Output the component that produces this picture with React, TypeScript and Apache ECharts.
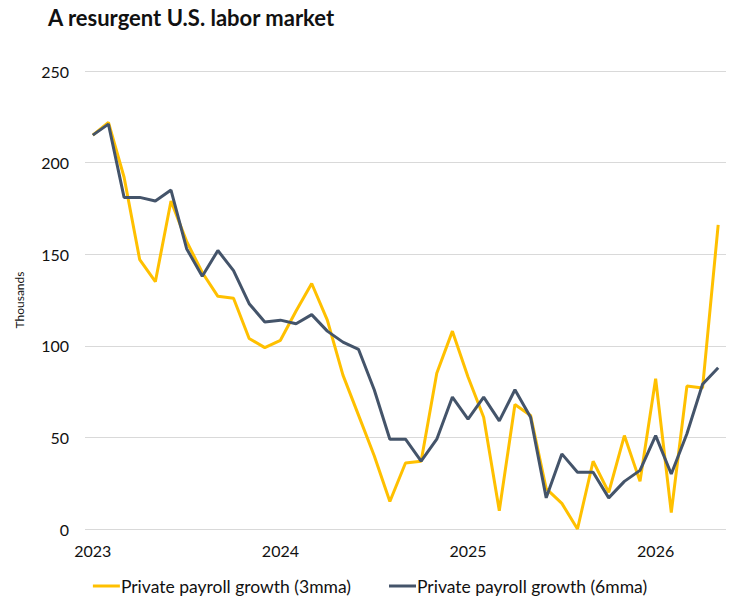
import React, { useEffect, useRef } from "react";
import * as echarts from "echarts";

// Monthly points, Jan 2023 through May 2026
const months: string[] = [
  "2023-01", "2023-02", "2023-03", "2023-04", "2023-05", "2023-06", "2023-07", "2023-08", "2023-09", "2023-10", "2023-11", "2023-12",
  "2024-01", "2024-02", "2024-03", "2024-04", "2024-05", "2024-06", "2024-07", "2024-08", "2024-09", "2024-10", "2024-11", "2024-12",
  "2025-01", "2025-02", "2025-03", "2025-04", "2025-05", "2025-06", "2025-07", "2025-08", "2025-09", "2025-10", "2025-11", "2025-12",
  "2026-01", "2026-02", "2026-03", "2026-04", "2026-05",
];

// Private payroll growth, thousands, 3-month moving average
const payroll3mma: number[] = [
  215, 222, 192, 147, 135, 179, 157, 140, 127, 126,
  104, 99, 103, 119, 134, 114, 84, 62, 40, 15,
  36, 37, 85, 108, 83, 61, 10, 68, 62, 22,
  14, 0, 37, 20, 51, 26, 82, 9, 78, 77,
  166,
];

// Private payroll growth, thousands, 6-month moving average
const payroll6mma: number[] = [
  215, 221, 181, 181, 179, 185, 153, 138, 152, 141,
  123, 113, 114, 112, 117, 108, 102, 98, 76, 49,
  49, 37, 49, 72, 60, 72, 59, 76, 61, 17,
  41, 31, 31, 17, 26, 32, 51, 30, 52, 79,
  88,
];

const yTicks: number[] = [0, 50, 100, 150, 200, 250];

const FONT = "Lato, 'Open Sans', sans-serif";
const GOLD = "#FFC000";
const SLATE = "#44546A";

export default function App() {
  const ref = useRef<HTMLDivElement>(null);

  useEffect(() => {
    if (!ref.current) return;
    const chart = echarts.init(ref.current, undefined, { renderer: "svg" });
    chart.setOption({
      animation: false,
      backgroundColor: "#ffffff",
      textStyle: { fontFamily: FONT },
      title: {
        text: "A resurgent U.S. labor market",
        left: 43,
        top: 1,
        textStyle: { fontFamily: FONT, fontSize: 22, fontWeight: "bold", color: "#111" },
      },
      grid: { left: 85, right: 14, top: 71, bottom: 82 },
      legend: {
        bottom: 11,
        left: "center",
        itemWidth: 27,
        itemHeight: 3,
        itemGap: 38,
        icon: "rect",
        textStyle: { fontFamily: FONT, fontSize: 17.5, color: "#111", padding: [0, 0, 0, -4] },
        data: ["Private payroll growth (3mma)", "Private payroll growth (6mma)"],
      },
      xAxis: {
        type: "category",
        data: months,
        boundaryGap: true,
        axisLine: { show: false },
        axisTick: { show: false },
        axisLabel: {
          interval: (idx: number) => idx % 12 === 0,
          formatter: (v: string) => v.slice(0, 4),
          fontFamily: FONT,
          fontSize: 16,
          color: "#111",
          margin: 13,
        },
      },
      yAxis: {
        type: "value",
        min: yTicks[0],
        max: yTicks[yTicks.length - 1],
        interval: 50,
        name: "Thousands",
        nameLocation: "middle",
        nameGap: 60,
        nameTextStyle: { fontFamily: FONT, fontSize: 12, color: "#111" },
        axisLine: { show: false },
        axisTick: { show: false },
        axisLabel: { fontFamily: FONT, fontSize: 16, color: "#111", margin: 16 },
        splitLine: { lineStyle: { color: "#d9d9d9", width: 1 } },
      },
      series: [
        {
          name: "Private payroll growth (3mma)",
          type: "line",
          data: payroll3mma,
          showSymbol: false,
          symbol: "none",
          lineStyle: { color: GOLD, width: 3 },
          itemStyle: { color: GOLD },
          z: 2,
        },
        {
          name: "Private payroll growth (6mma)",
          type: "line",
          data: payroll6mma,
          showSymbol: false,
          symbol: "none",
          lineStyle: { color: SLATE, width: 3 },
          itemStyle: { color: SLATE },
          z: 3,
        },
      ],
    });
    return () => chart.dispose();
  }, []);

  return <div ref={ref} style={{ width: 740, height: 611, margin: -8 }} />;
}
